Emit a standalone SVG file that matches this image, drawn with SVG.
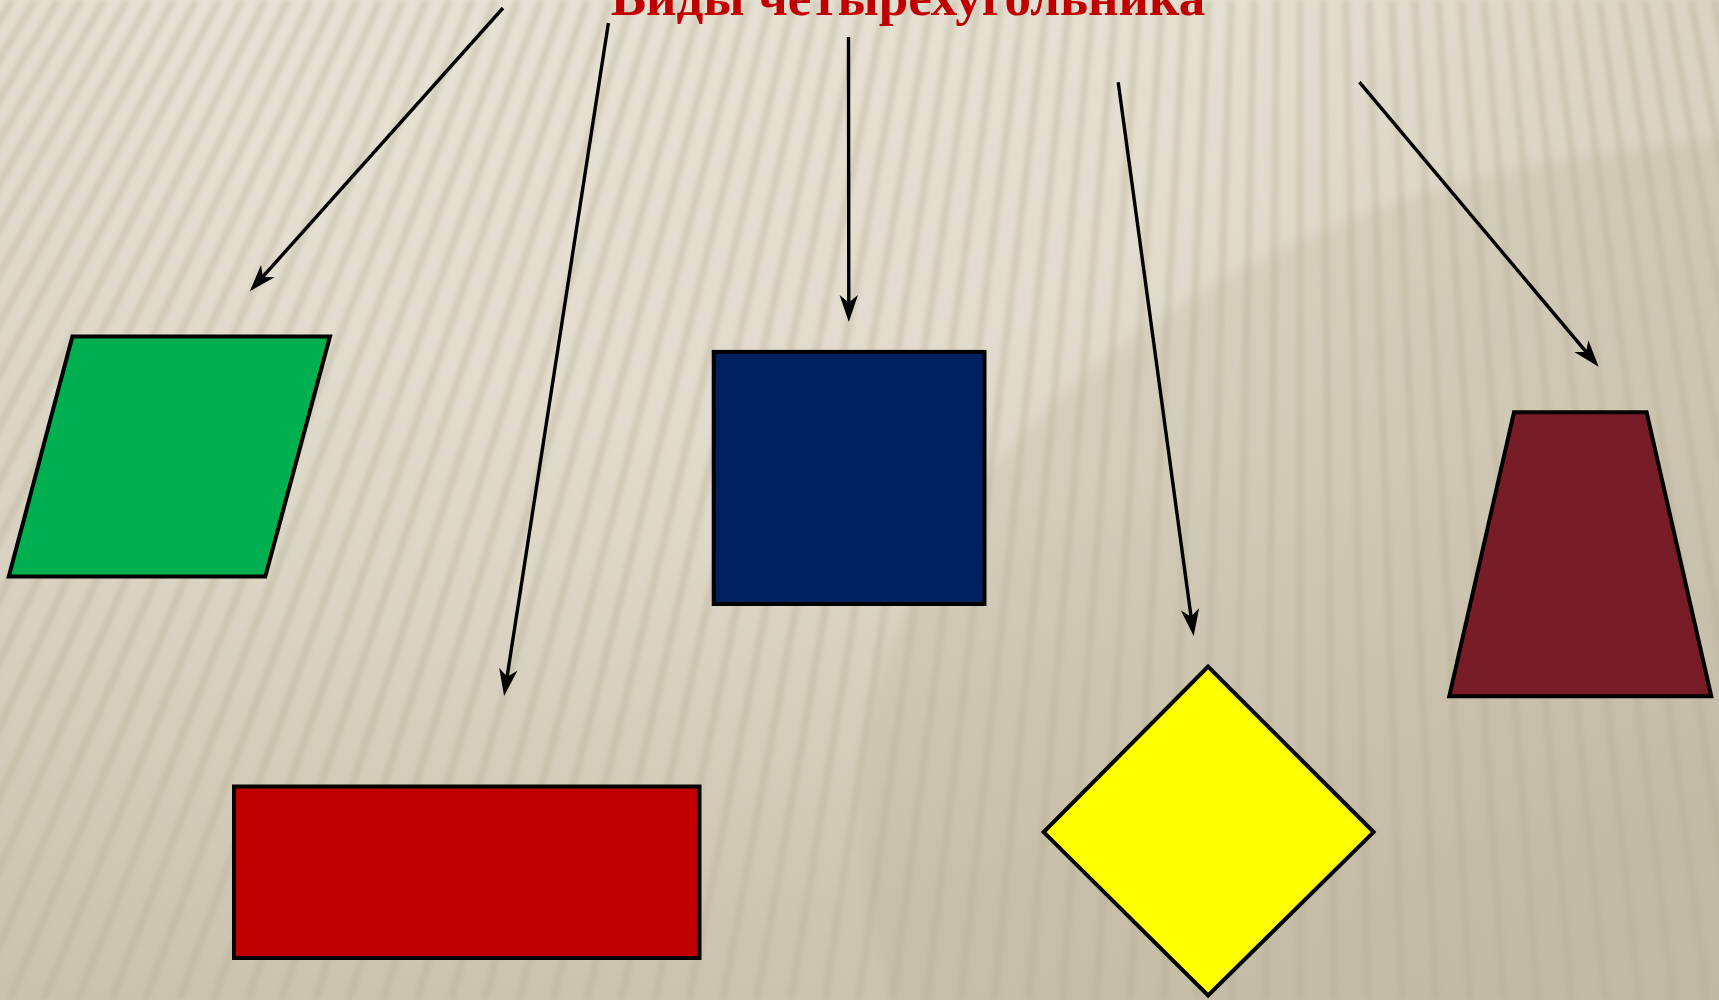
<svg xmlns="http://www.w3.org/2000/svg" width="1719" height="1000" viewBox="0 0 1719 1000">
<style>
.shape{stroke:#000;stroke-width:4;stroke-linejoin:miter}
.conn{stroke:#000;stroke-width:3.4;fill:none;marker-end:url(#arr)}
.title{font-family:"Liberation Serif","Times New Roman",serif;font-weight:bold;font-size:53px;fill:#c00000}
</style>
<defs>
<linearGradient id="bg" x1="0" y1="0" x2="0.25" y2="1">
<stop offset="0" stop-color="#e7e2d5"/>
<stop offset="0.6" stop-color="#e0dacb"/>
<stop offset="1" stop-color="#d4cdba"/>
</linearGradient>
<radialGradient id="shade" cx="700" cy="-100" r="1500" gradientUnits="userSpaceOnUse">
<stop offset="0.35" stop-color="#a89e84" stop-opacity="0"/>
<stop offset="1" stop-color="#a89e84" stop-opacity="0.33"/>
</radialGradient>
<filter id="blur" x="-5%" y="-5%" width="110%" height="110%"><feGaussianBlur stdDeviation="2.4"/></filter>
<filter id="blur2" x="-10%" y="-10%" width="120%" height="120%"><feGaussianBlur stdDeviation="6"/></filter>
<marker id="arr" markerUnits="userSpaceOnUse" markerWidth="28" markerHeight="20" refX="16" refY="10" orient="auto">
<path d="M27,10 L0,0.8 L7.5,10 L0,19.2 Z" fill="#000"/>
</marker>
</defs>
<g id="background">
<rect x="0" y="0" width="1719" height="1000" fill="url(#bg)"/>
<ellipse cx="1780" cy="820" rx="920" ry="680" fill="#bcb399" opacity="0.25" filter="url(#blur2)"/>
<rect x="0" y="0" width="1719" height="1000" fill="url(#shade)"/>
<path filter="url(#blur)" stroke="#b3aa90" stroke-opacity="0.38" stroke-width="7" fill="none" d="
M1737,0L1945.1,1000 M1714,0L1911.1,1000 M1691,0L1877.2,1000 M1668,0L1843.2,1000 M1645,0L1809.3,1000
M1622,0L1775.3,1000 M1599,0L1741.4,1000 M1576,0L1707.4,1000 M1553,0L1673.5,1000 M1530,0L1639.5,1000
M1507,0L1605.6,1000 M1484,0L1571.6,1000 M1461,0L1537.7,1000 M1438,0L1503.7,1000 M1415,0L1469.8,1000
M1392,0L1435.8,1000 M1369,0L1401.9,1000 M1346,0L1367.9,1000 M1323,0L1334,1000 M1300,0L1300,1000
M1277,0L1266,1000 M1254,0L1232.1,1000 M1231,0L1198.1,1000 M1208,0L1164.2,1000 M1185,0L1130.2,1000
M1162,0L1096.3,1000 M1139,0L1062.3,1000 M1116,0L1028.4,1000 M1093,0L994.4,1000 M1070,0L960.5,1000
M1047,0L926.5,1000 M1024,0L892.6,1000 M1001,0L858.6,1000 M978,0L824.7,1000 M955,0L790.7,1000
M932,0L756.8,1000 M909,0L722.8,1000 M886,0L688.9,1000 M863,0L654.9,1000 M840,0L621,1000
M817,0L587,1000 M794,0L553.1,1000 M771,0L519.1,1000 M748,0L485.2,1000 M725,0L451.2,1000
M702,0L417.2,1000 M679,0L383.3,1000 M656,0L349.3,1000 M633,0L315.4,1000 M610,0L281.4,1000
M587,0L247.5,1000 M564,0L213.5,1000 M541,0L179.6,1000 M518,0L145.6,1000 M495,0L111.7,1000
M472,0L77.7,1000 M449,0L43.8,1000 M426,0L9.8,1000 M403,0L-24.1,1000 M380,0L-58.1,1000
M357,0L-92,1000 M334,0L-126,1000 M311,0L-159.9,1000 M288,0L-193.9,1000 M265,0L-227.8,1000
M242,0L-261.8,1000 M219,0L-295.7,1000 M196,0L-329.7,1000 M173,0L-363.6,1000 M150,0L-397.6,1000
M127,0L-431.6,1000 M104,0L-465.5,1000 M81,0L-499.5,1000 M58,0L-533.4,1000 M35,0L-567.4,1000
M12,0L-601.3,1000 M-11,0L-635.3,1000 M-34,0L-669.2,1000"/>
</g>
<g id="title">
<text class="title" x="908" y="15" text-anchor="middle">Виды четырехугольника</text>
</g>
<g id="connectors">
<line class="conn" x1="503" y1="8" x2="257.2" y2="283"/>
<line class="conn" x1="608.4" y1="23" x2="505.8" y2="685.1"/>
<line class="conn" x1="848.5" y1="37" x2="848.8" y2="311"/>
<line class="conn" x1="1118.2" y1="82.2" x2="1192.2" y2="625.1"/>
<line class="conn" x1="1359.4" y1="82.2" x2="1591.6" y2="358.4"/>
</g>
<g id="parallelogram">
<polygon class="shape" fill="#00b050" points="72.4,336.6 330,336.6 265.3,576.6 8.8,576.6"/>
</g>
<g id="rectangle">
<rect class="shape" fill="#c00000" x="234" y="786.5" width="465.5" height="171.5"/>
</g>
<g id="square">
<rect class="shape" fill="#002060" x="713.7" y="351.9" width="270.8" height="252.1"/>
</g>
<g id="rhombus">
<polygon class="shape" fill="#ffff00" points="1208.1,666.6 1373.6,832.1 1208.1,995.4 1043.7,832.1"/>
</g>
<g id="trapezoid">
<polygon class="shape" fill="#781d28" points="1514,412.2 1646.6,412.2 1711.3,696.2 1449.3,696.2"/>
</g>
</svg>
